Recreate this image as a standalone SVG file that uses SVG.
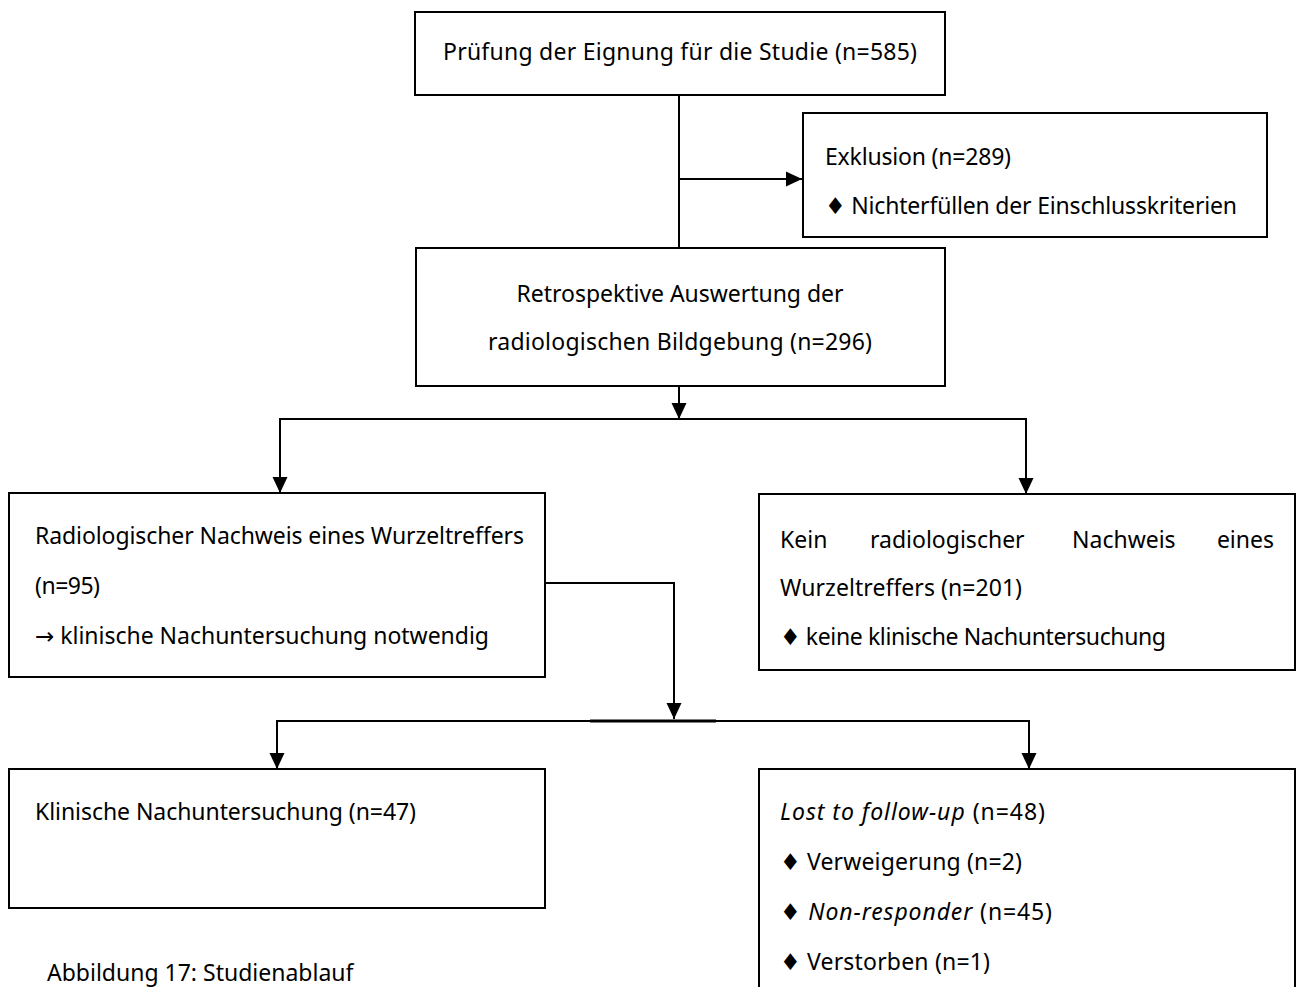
<svg xmlns="http://www.w3.org/2000/svg" width="1296" height="987" viewBox="0 0 1296 987">
<defs>
<style>
.box{fill:#fff;stroke:#000;stroke-width:2}
.t{font-family:"Noto Sans","DejaVu Sans",sans-serif;font-size:23px;fill:#000}
.c{text-anchor:middle}
.ln{fill:none;stroke:#000;stroke-width:2}
.i{font-style:italic}
</style>
<marker id="ah" markerUnits="userSpaceOnUse" markerWidth="16" markerHeight="16" viewBox="0 0 16 16" refX="16" refY="8" orient="auto">
<path d="M0,0.5 L16,8 L0,15.5 Z" fill="#000"/>
</marker>
</defs>
<rect width="1296" height="987" fill="#fff"/>
<g id="connectors">
<line class="ln" x1="679" y1="96" x2="679" y2="248"/>
<line class="ln" x1="679" y1="179" x2="802" y2="179" marker-end="url(#ah)"/>
<line class="ln" x1="679" y1="386" x2="679" y2="419" marker-end="url(#ah)"/>
<line class="ln" x1="279" y1="419" x2="1027" y2="419"/>
<line class="ln" x1="280" y1="419" x2="280" y2="493" marker-end="url(#ah)"/>
<line class="ln" x1="1026" y1="419" x2="1026" y2="494" marker-end="url(#ah)"/>
<polyline class="ln" points="545,583 674,583 674,719" marker-end="url(#ah)"/>
<line class="ln" x1="276" y1="721" x2="1030" y2="721"/>
<line stroke="#000" stroke-width="3" x1="590" y1="721" x2="716" y2="721"/>
<line class="ln" x1="277" y1="721" x2="277" y2="769" marker-end="url(#ah)"/>
<line class="ln" x1="1029" y1="721" x2="1029" y2="769" marker-end="url(#ah)"/>
</g>
<g id="n-screening">
<rect class="box" x="415" y="12" width="530" height="83"/>
<text class="t c" x="680" y="60" textLength="474">Prüfung der Eignung für die Studie (n=585)</text>
</g>
<g id="n-exclusion">
<rect class="box" x="803" y="113" width="464" height="124"/>
<text class="t" x="825" y="165" textLength="186">Exklusion (n=289)</text>
<text class="t" x="825" y="214" textLength="412">♦ Nichterfüllen der Einschlusskriterien</text>
</g>
<g id="n-review">
<rect class="box" x="416" y="248" width="529" height="138"/>
<text class="t c" x="680" y="302" textLength="327">Retrospektive Auswertung der</text>
<text class="t c" x="680" y="350" textLength="384">radiologischen Bildgebung (n=296)</text>
</g>
<g id="n-positive">
<rect class="box" x="9" y="493" width="536" height="184"/>
<text class="t" x="35" y="544" textLength="489">Radiologischer Nachweis eines Wurzeltreffers</text>
<text class="t" x="35" y="594" textLength="65">(n=95)</text>
<text class="t" x="35" y="644" textLength="454">→ klinische Nachuntersuchung notwendig</text>
</g>
<g id="n-negative">
<rect class="box" x="759" y="494" width="536" height="176"/>
<text class="t" x="780" y="548">Kein</text>
<text class="t" x="870" y="548">radiologischer</text>
<text class="t" x="1072" y="548">Nachweis</text>
<text class="t" x="1274" y="548" text-anchor="end">eines</text>
<text class="t" x="780" y="596" textLength="242">Wurzeltreffers (n=201)</text>
<text class="t" x="780" y="645" textLength="386">♦ keine klinische Nachuntersuchung</text>
</g>
<g id="n-clinical">
<rect class="box" x="9" y="769" width="536" height="139"/>
<text class="t" x="35" y="820" textLength="381">Klinische Nachuntersuchung (n=47)</text>
</g>
<g id="n-lost">
<rect class="box" x="759" y="769" width="536" height="230"/>
<text class="t" x="780" y="820" textLength="265"><tspan class="i">Lost to follow-up</tspan> (n=48)</text>
<text class="t" x="780" y="870" textLength="242">♦ Verweigerung (n=2)</text>
<text class="t" x="780" y="920" textLength="272">♦ <tspan class="i">Non-responder</tspan> (n=45)</text>
<text class="t" x="780" y="970" textLength="210">♦ Verstorben (n=1)</text>
</g>
<text class="t" x="47" y="981">Abbildung 17: Studienablauf</text>
</svg>
